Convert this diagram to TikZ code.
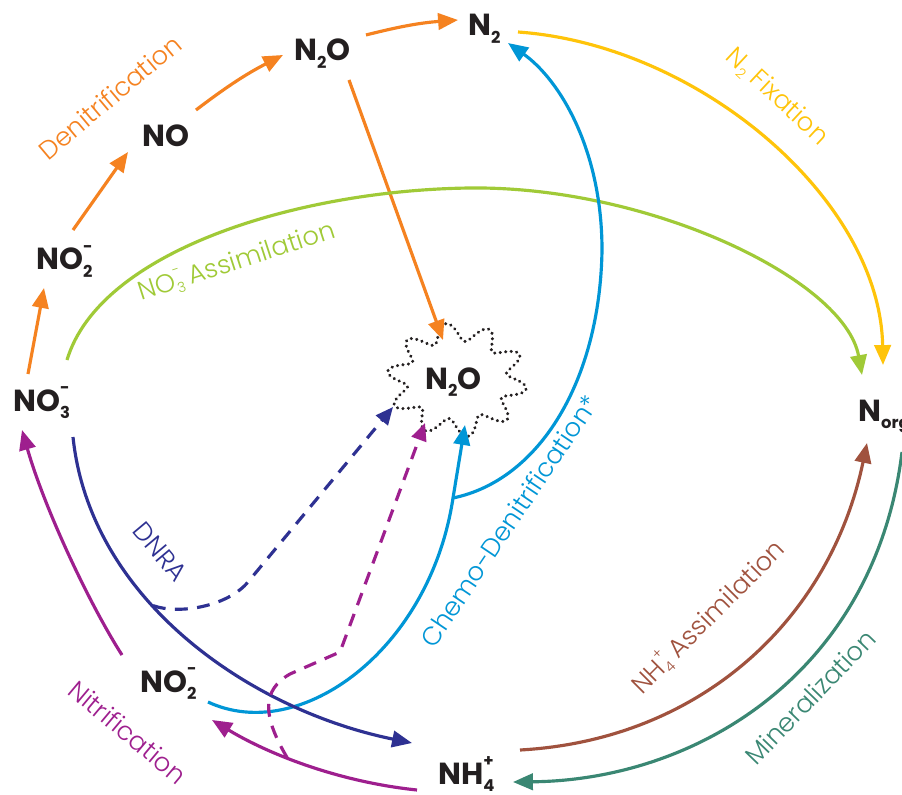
\documentclass[tikz,border=0pt]{standalone}
\usepackage{fontspec}
\setmainfont{Poppins}
\newfontfamily\lightfont{Poppins Light}
\usetikzlibrary{arrows.meta}
\definecolor{corange}{RGB}{245,130,32}
\definecolor{cyellow}{RGB}{255,196,10}
\definecolor{cgreen}{RGB}{160,202,55}
\definecolor{cblue}{RGB}{0,150,214}
\definecolor{cnavy}{RGB}{46,49,146}
\definecolor{cpurple}{RGB}{158,31,142}
\definecolor{cbrown}{RGB}{160,82,62}
\definecolor{cteal}{RGB}{58,135,115}
\definecolor{ctext}{RGB}{35,31,32}
\newcommand\chsub[1]{\raisebox{-6pt}{\fontsize{14}{14}\selectfont #1}}
\newcommand\chss[2]{{\fontsize{14}{14}\selectfont\rlap{\raisebox{-6pt}{#1}}\raisebox{15pt}{#2}}}
\newcommand\lsub[1]{\raisebox{-4pt}{\fontsize{12}{12}\selectfont #1}}
\newcommand\lss[2]{{\fontsize{12}{12}\selectfont\rlap{\raisebox{-4pt}{#1}}\raisebox{12pt}{#2}}}
\tikzset{
  sp/.style={font=\fontsize{26}{26}\selectfont\bfseries, text=ctext, anchor=base west, inner sep=0pt},
  lbl/.style={font=\lightfont\fontsize{22}{22}\selectfont, inner sep=0pt},
  conn/.style={line width=2.7pt, -{Triangle[length=17pt,width=14pt]}},
  dconn/.style={line width=2.7pt, dash pattern=on 11pt off 8pt, -{Triangle[length=15pt,width=13pt]}},
  cloudline/.style={line width=2.8pt, dash pattern=on 0.1pt off 4.6pt, line cap=round, ctext},
}
\begin{document}
\begin{tikzpicture}[x=0.03cm,y=-0.03cm]
\fill[white] (0,0) rectangle (902,795);
\useasboundingbox (0,0) rectangle (902,795);

% species
\node[sp] (n2)   at (468,36)  {N\chsub{2}};
\node[sp] (n2ot) at (294,61)  {N\chsub{2}O};
\node[sp] (no)   at (142,147) {NO};
\node[sp] (no2u) at (36,270)  {NO\chss{2}{-}};
\node[sp] (no3)  at (13,411)  {NO\chss{3}{-}};
\node[sp] (n2oc) at (425,389) {N\chsub{2}O};
\node[sp] (norg) at (858,421) {N\chsub{org}};
\node[sp] (no2l) at (140,692) {NO\chss{2}{-}};
\node[sp] (nh4)  at (438,784) {NH\chss{4}{+}};

% cloud
\draw[cloudline] plot[domain=0:360, samples=240, smooth cycle]
  ({457+(60+10*sin(10*\x))*cos(\x)}, {380+(48+9*sin(10*\x))*sin(\x)});

% denitrification (orange)
\draw[conn, corange] ([shift={(15,-37)}]no3.base west) -- ([shift={(8,18)}]no2u.base west);
\draw[conn, corange] ([shift={(37,-40)}]no2u.base west) -- ([shift={(-14,5)}]no.base west);
\draw[conn, corange] ([shift={(54,-37)}]no.base west) to[bend left=5] ([shift={(-11,-6)}]n2ot.base west);
\draw[conn, corange] ([shift={(72,-26)}]n2ot.base west) to[bend left=5] ([shift={(-10,-16)}]n2.base west);
\draw[conn, corange] ([shift={(55,19)}]n2ot.base west) -- ([shift={(18,-49)}]n2oc.base west);

% N2 fixation (yellow)
\draw[conn, cyellow] ([shift={(50,-4)}]n2.base west) .. controls +(182,13) and +(-3,-165) .. ([shift={(25,-56)}]norg.base west);

% NO3 assimilation (green)
\draw[conn, cgreen] ([shift={(54,-51)}]no3.base west) .. controls (100,250) and (300,190) .. (470,188)
  .. controls (650,186) and (845,280) .. ([shift={(4,-46)}]norg.base west);

% chemo-denitrification (blue)
\draw[conn, cblue] ([shift={(68,10)}]no2l.base west) .. controls (300,745) and (430,650) .. (453,498)
  coordinate (bbr) -- ([shift={(40,36)}]n2oc.base west);
\draw[conn, cblue] (bbr) .. controls (540,480) and (600,380) .. (602,250)
  .. controls (602,150) and (560,80) .. ([shift={(40,7)}]n2.base west);

% DNRA (navy)
\draw[conn, cnavy] ([shift={(60,26)}]no3.base west) .. controls (90,600) and (250,710) ..
  coordinate[pos=0.4] (dnrab) ([shift={(-26,-41)}]nh4.base west);
\draw[dconn, cnavy] (dnrab) .. controls (180,615) and (228,606) .. (248,582) -- ([shift={(-32,18)}]n2oc.base west);

% nitrification (purple)
\draw[conn, cpurple] ([shift={(-21,6)}]nh4.base west) .. controls (340,782) and (270,755) ..
  coordinate[pos=0.6] (nitb) ([shift={(72,28)}]no2l.base west);
\draw[dconn, cpurple] (nitb) .. controls (262,715) and (262,690) .. (290,674) -- (340,652) -- ([shift={(0,34)}]n2oc.base west);
\draw[conn, cpurple] ([shift={(-18,-37)}]no2l.base west) .. controls (90,605) and (45,510) .. ([shift={(9,19)}]no3.base west);

% NH4 assimilation (brown)
\draw[conn, cbrown] ([shift={(82,-34)}]nh4.base west) .. controls (700,740) and (830,620) .. ([shift={(9,22)}]norg.base west);

% mineralization (teal)
\draw[conn, cteal] ([shift={(44,31)}]norg.base west) .. controls (875,670) and (700,780) .. ([shift={(75,-2)}]nh4.base west);

% labels
\node[lbl, text=corange, rotate=40]  (lden)  at (110,97)  {Denitrification};
\node[lbl, text=cyellow, rotate=-43] (lfix)  at (777,97)  {N\lsub{2} Fixation};
\node[lbl, text=cgreen, rotate=18]   (lno3)  at (237,262) {NO\lss{3}{-} Assimilation};
\node[lbl, text=cblue, rotate=56]    (lchem) at (509,521) {Chemo-Denitrification*};
\node[lbl, text=cnavy, rotate=-50]   (ldnra) at (160,552) {DNRA};
\node[lbl, text=cpurple, rotate=-40] (lnit)  at (128,732) {Nitrification};
\node[lbl, text=cbrown, rotate=45]   (lnh4)  at (708,617) {NH\lss{4}{+} Assimilation};
\node[lbl, text=cteal, rotate=46]    (lmin)  at (810,697) {Mineralization};
\end{tikzpicture}
\end{document}
